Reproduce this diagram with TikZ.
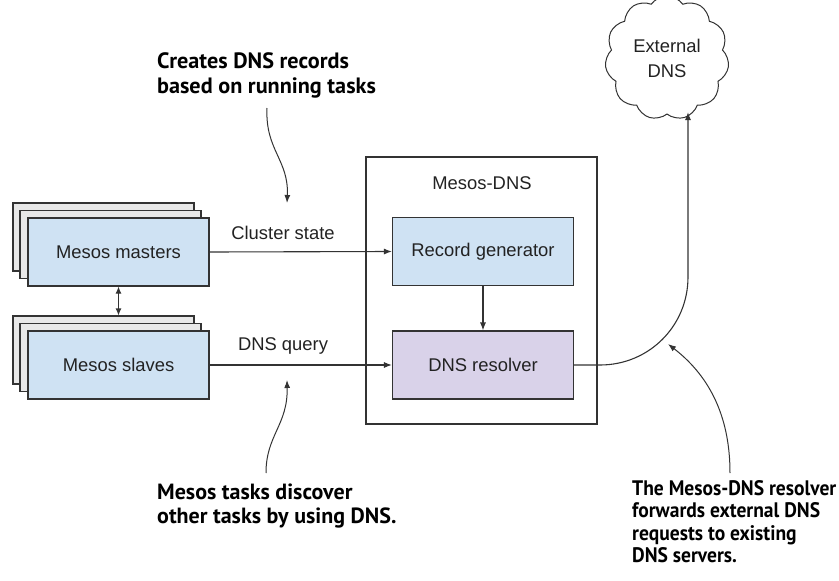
\documentclass[tikz,border=0pt]{standalone}
\usepackage{fontspec}
\setmainfont{Liberation Sans}
\newfontfamily\notefont{PT Sans}
\newfontfamily\notefontn[FakeStretch=0.93]{PT Sans}
\usetikzlibrary{arrows.meta,shapes.symbols}
\definecolor{boxblue}{HTML}{CFE2F3}
\definecolor{boxpurple}{HTML}{D9D2E9}
\definecolor{boxgray}{HTML}{E8E8E8}
\definecolor{linegray}{HTML}{333333}
\definecolor{textgray}{HTML}{222222}
\tikzset{
  every node/.style={text=textgray},
  compbox/.style={draw=linegray, line width=1.1pt, minimum width=181pt, minimum height=68pt, inner sep=0pt,
    font=\fontsize{18.4}{22}\selectfont},
  backbox/.style={compbox, fill=boxgray},
  bluebox/.style={compbox, fill=boxblue},
  purplebox/.style={compbox, fill=boxpurple},
  lbl/.style={font=\fontsize{18.4}{22}\selectfont, inner sep=0pt},
  note/.style={align=left, inner sep=0pt, text=black},
  conn/.style={draw=linegray, line width=1.1pt, -{Latex[length=8pt,width=6pt]}},
  annot/.style={draw=linegray, line width=1pt, -{Latex[length=8pt,width=6pt]}},
}
\begin{document}
\begin{tikzpicture}[x=1pt,y=-1pt]
\useasboundingbox (0,0) rectangle (839,581);
% Mesos-DNS container
\node[draw=linegray, line width=1.1pt, minimum width=231pt, minimum height=267pt, inner sep=0pt] (dnsbox) at (481.5,290.5) {};
\node[lbl] (dnslbl) at (482,183) {Mesos-DNS};
% masters stack
\node[backbox] (mback) at (103.5,237) {};
\node[backbox] (mmid) at (110.5,244.5) {};
\node[bluebox] (masters) at (118.5,252) {Mesos masters};
% slaves stack
\node[backbox] (sback) at (103.5,350) {};
\node[backbox] (smid) at (110.5,357.5) {};
\node[bluebox] (slaves) at (118.5,365) {Mesos slaves};
% inner boxes
\node[bluebox] (recgen) at (483,251.5) {Record generator};
\node[purplebox] (resolver) at (483,365) {DNS resolver};
% cloud
\node[cloud, cloud puffs=11, cloud puff arc=110, aspect=1.05, draw=linegray, line width=1pt, fill=white,
  minimum width=124pt, minimum height=124pt, inner sep=0pt, align=center,
  font=\fontsize{18.4}{25}\selectfont] (cloud) at (667,58) {External\\DNS};
% labels
\node[lbl] (cslbl) at (283,233) {Cluster state};
\node[lbl] (dqlbl) at (283,346) {DNS query};
% connectors
\draw[draw=linegray, line width=1.1pt, {Latex[length=7pt,width=6pt]}-{Latex[length=7pt,width=6pt]}]
  (masters.south) -- (masters.south |- sback.north);
\draw[conn] (masters.east) -- (recgen.west);
\draw[conn] (slaves.east) -- (resolver.west);
\draw[conn] (recgen.south) -- (resolver.north);
\coordinate (bend) at (600,365);
\coordinate (cloudin) at (688,112);
\draw[conn] (resolver.east) -- (bend) .. controls (649,365) and (688,326) .. (688,277) -- (cloudin);
% annotations
\node[note, anchor=north west, font=\notefont\bfseries\fontsize{22.2}{25.5}\selectfont] (n1) at (157,52) {Creates DNS records\\based on running tasks};
\node[note, anchor=north west, font=\notefont\bfseries\fontsize{22}{24}\selectfont] (n2) at (157,484) {Mesos tasks discover\\other tasks by using DNS.};
\node[note, anchor=north west, font=\notefontn\bfseries\fontsize{21}{22.6}\selectfont] (n3) at (632,480) {The Mesos-DNS resolver\\forwards external DNS\\requests to existing\\DNS servers.};
\coordinate (a1s) at (267,108);
\coordinate (a1e) at (287,203);
\draw[annot] (a1s) .. controls (265,150) and (289,160) .. (a1e);
\coordinate (a2s) at (266,473);
\coordinate (a2e) at (287,380);
\draw[annot] (a2s) .. controls (266,435) and (288,425) .. (a2e);
\coordinate (a3s) at (730,473);
\coordinate (a3e) at (668,344);
\draw[annot] (a3s) .. controls (730,420) and (712,378) .. (a3e);
\end{tikzpicture}
\end{document}
